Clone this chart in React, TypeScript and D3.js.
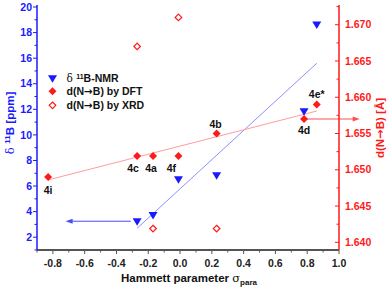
import React, { useRef, useEffect } from 'react';
import * as d3 from 'd3';

// delta 11B NMR (left axis)
const sigmaNmr = [-0.27, -0.17, -0.01, 0.23, 0.78, 0.86];
const deltaNmr = [3.2, 3.7, 6.5, 6.8, 11.8, 18.6];

// d(N->B) by DFT (right axis)
const sigmaDft = [-0.83, -0.27, -0.17, -0.01, 0.23, 0.78, 0.86];
const dDft = [1.649, 1.6519, 1.6519, 1.6519, 1.655, 1.657, 1.659];
const dftLabels = ['4i', '4c', '4a', '4f', '4b', '4d', '4e*'];

// d(N->B) by XRD (right axis)
const sigmaXrd = [-0.27, -0.01, -0.17, 0.23];
const dXrd = [1.667, 1.671, 1.6419, 1.6419];

// linear fits and axis pointers
const nmrFit = [[-0.27, 2.7], [0.86, 15.6]];
const dftFit = [[-0.83, 1.6486], [0.86, 1.6581]];
const nmrArrow = [[-0.31, 3.25], [-0.72, 3.25]];
const dftArrow = [[0.79, 1.657], [1.13, 1.657]];

const xTicks = [-0.8, -0.6, -0.4, -0.2, 0.0, 0.2, 0.4, 0.6, 0.8, 1.0];
const leftTicks = [2, 4, 6, 8, 10, 12, 14, 16, 18, 20];
const rightTicks = [1.64, 1.645, 1.65, 1.655, 1.66, 1.665, 1.67];

const BLUE = '#1a1aff';
const RED = '#ff1a1a';
const FONT = "'Liberation Sans', Arial, sans-serif";
const SYM = "'DejaVu Sans', sans-serif";

const App = () => {
  const svgRef = useRef<SVGSVGElement>(null);

  useEffect(() => {
    const width = 390;
    const height = 290;
    const margin = { top: 7, right: 51, bottom: 40, left: 37 };

    d3.select(svgRef.current).selectAll('*').remove();
    const svg = d3.select(svgRef.current)
      .attr('width', width)
      .attr('height', height)
      .style('font-family', FONT);

    const x = d3.scaleLinear().domain([-0.9, 1.0]).range([margin.left, width - margin.right]);
    const yL = d3.scaleLinear().domain([1, 20]).range([height - margin.bottom, margin.top]);
    const yR = d3.scaleLinear().domain([1.63894, 1.67244]).range([height - margin.bottom, margin.top]);

    const x0 = margin.left;
    const x1 = width - margin.right;
    const yb = height - margin.bottom;

    // fit lines
    const fitLine = (pts: number[][], ys: d3.ScaleLinear<number, number>, color: string) => {
      svg.append('path')
        .attr('d', d3.line()(pts.map(p => [x(p[0]), ys(p[1])] as [number, number])))
        .attr('stroke', color)
        .attr('stroke-width', 1)
        .attr('fill', 'none');
    };
    fitLine(nmrFit, yL, '#8f8fff');
    fitLine(dftFit, yR, '#ff9c9c');

    // arrows
    const arrow = (pts: number[][], ys: d3.ScaleLinear<number, number>, color: string) => {
      const [ax, ay] = [x(pts[0][0]), ys(pts[0][1])];
      const [bx, by] = [x(pts[1][0]), ys(pts[1][1])];
      const dir = Math.sign(bx - ax);
      svg.append('line')
        .attr('x1', ax).attr('y1', ay).attr('x2', bx - dir * 5).attr('y2', by)
        .attr('stroke', color).attr('stroke-width', 1);
      svg.append('path')
        .attr('d', `M${bx},${by}L${bx - dir * 7},${by - 2.5}L${bx - dir * 7},${by + 2.5}Z`)
        .attr('fill', color);
    };
    arrow(nmrArrow, yL, '#4a4aff');
    arrow(dftArrow, yR, '#ff4d4d');

    // x axis
    const xAxis = svg.append('g').attr('transform', `translate(0,${yb})`);
    xAxis.append('line').attr('x1', x0).attr('x2', x1).attr('stroke', '#555').attr('stroke-width', 2);
    d3.range(-0.9, 1.01, 0.1).forEach(v => {
      const major = xTicks.some(t => Math.abs(t - v) < 1e-6);
      xAxis.append('line')
        .attr('x1', x(v)).attr('x2', x(v)).attr('y1', 0).attr('y2', major ? 4 : 2.5)
        .attr('stroke', '#555').attr('stroke-width', 1);
    });
    xAxis.selectAll('text.tl')
      .data(xTicks)
      .enter()
      .append('text')
      .attr('x', d => x(d))
      .attr('y', 17)
      .attr('text-anchor', 'middle')
      .attr('font-size', 10.5)
      .attr('font-weight', 'bold')
      .attr('fill', '#222')
      .text(d => d.toFixed(1));

    // left axis
    const lAxis = svg.append('g');
    lAxis.append('line').attr('x1', x0).attr('x2', x0).attr('y1', margin.top - 2).attr('y2', yb)
      .attr('stroke', BLUE).attr('stroke-width', 1.5);
    d3.range(1, 20.5, 1).forEach(v => {
      const major = v % 2 === 0;
      lAxis.append('line')
        .attr('x1', x0 - (major ? 4 : 2.5)).attr('x2', x0).attr('y1', yL(v)).attr('y2', yL(v))
        .attr('stroke', BLUE).attr('stroke-width', 1);
    });
    lAxis.selectAll('text')
      .data(leftTicks)
      .enter()
      .append('text')
      .attr('x', x0 - 5)
      .attr('y', d => yL(d) + 3.7)
      .attr('text-anchor', 'end')
      .attr('font-size', 10.5)
      .attr('font-weight', 'bold')
      .attr('fill', BLUE)
      .text(d => d);

    // right axis
    const rAxis = svg.append('g');
    rAxis.append('line').attr('x1', x1).attr('x2', x1).attr('y1', margin.top - 2).attr('y2', yb)
      .attr('stroke', RED).attr('stroke-width', 1.5);
    d3.range(1.64, 1.6726, 0.0025).forEach((v, i) => {
      const major = i % 2 === 0;
      rAxis.append('line')
        .attr('x1', x1 - (major ? 4 : 2.5)).attr('x2', x1).attr('y1', yR(v)).attr('y2', yR(v))
        .attr('stroke', RED).attr('stroke-width', 1);
    });
    rAxis.selectAll('text')
      .data(rightTicks)
      .enter()
      .append('text')
      .attr('x', x1 + 6)
      .attr('y', d => yR(d) + 3.7)
      .attr('font-size', 10.5)
      .attr('font-weight', 'bold')
      .attr('fill', RED)
      .text(d => d.toFixed(3));

    // markers
    const tri = (cx: number, cy: number) => `M${cx - 4.5},${cy - 3.5}L${cx + 4.5},${cy - 3.5}L${cx},${cy + 4}Z`;
    const dia = (cx: number, cy: number, r: number) => `M${cx},${cy - r}L${cx + r},${cy}L${cx},${cy + r}L${cx - r},${cy}Z`;

    svg.selectAll('path.nmr')
      .data(sigmaNmr)
      .enter()
      .append('path')
      .attr('d', (d, i) => tri(x(d), yL(deltaNmr[i])))
      .attr('fill', BLUE);

    svg.selectAll('path.xrd')
      .data(sigmaXrd)
      .enter()
      .append('path')
      .attr('d', (d, i) => dia(x(d), yR(dXrd[i]), 3.3))
      .attr('fill', 'white')
      .attr('stroke', RED)
      .attr('stroke-width', 1.2);

    svg.selectAll('path.dft')
      .data(sigmaDft)
      .enter()
      .append('path')
      .attr('d', (d, i) => dia(x(d), yR(dDft[i]), 4))
      .attr('fill', RED);

    // compound labels
    const labelOffset: Record<string, [number, number]> = {
      '4i': [0, 17], '4c': [-4, 16], '4a': [-2, 16], '4f': [-7, 16],
      '4b': [-1, -6], '4d': [0, 15], '4e*': [0, -6],
    };
    svg.selectAll('text.lab')
      .data(dftLabels)
      .enter()
      .append('text')
      .attr('x', (d, i) => x(sigmaDft[i]) + labelOffset[d][0])
      .attr('y', (d, i) => yR(dDft[i]) + labelOffset[d][1])
      .attr('text-anchor', 'middle')
      .attr('font-size', 10.5)
      .attr('font-weight', 'bold')
      .attr('fill', '#111')
      .text(d => d);

    // text with a N→B arrow glyph (Liberation Sans has no arrow)
    const nbText = (t: d3.Selection<SVGTextElement, unknown, null, undefined>, tail: string) => {
      t.append('tspan').text('d(N');
      t.append('tspan').attr('font-family', SYM).text('→');
      t.append('tspan').text('B)' + tail);
    };

    // legend
    const lg = svg.append('g').attr('font-size', 10.5).attr('font-weight', 'bold').attr('fill', '#111');
    const lx = 52.5;
    lg.append('path').attr('d', tri(lx, 78.7)).attr('fill', BLUE);
    const t1 = lg.append('text').attr('x', 66.5).attr('y', 82.3);
    t1.append('tspan').attr('font-weight', 'normal').attr('font-family', 'DejaVu Serif, serif').text('δ ');
    t1.append('tspan').attr('font-size', 7).attr('dy', -3.5).text('11');
    t1.append('tspan').attr('dy', 3.5).text('B-NMR');
    lg.append('path').attr('d', dia(lx, 91.3, 4)).attr('fill', RED);
    nbText(lg.append('text').attr('x', 66.5).attr('y', 95), ' by DFT');
    lg.append('path').attr('d', dia(lx, 105.3, 3.3)).attr('fill', 'white').attr('stroke', RED).attr('stroke-width', 1.2);
    nbText(lg.append('text').attr('x', 66.5).attr('y', 109), ' by XRD');

    // axis titles
    const xt = svg.append('text')
      .attr('x', 189)
      .attr('y', 282)
      .attr('text-anchor', 'middle')
      .attr('font-size', 11.5)
      .attr('font-weight', 'bold')
      .attr('fill', '#111');
    xt.append('tspan').text('Hammett parameter ');
    xt.append('tspan').attr('font-weight', 'normal').attr('font-family', 'DejaVu Serif, serif').text('σ');
    xt.append('tspan').attr('font-size', 8).attr('dy', 3).text('para');

    const lt = svg.append('text')
      .attr('transform', `translate(14,123) rotate(-90)`)
      .attr('text-anchor', 'middle')
      .attr('font-size', 11.5)
      .attr('font-weight', 'bold')
      .attr('fill', BLUE);
    lt.append('tspan').attr('font-weight', 'normal').attr('font-family', 'DejaVu Serif, serif').text('δ ');
    lt.append('tspan').attr('font-size', 8).attr('dy', -4).text('11');
    lt.append('tspan').attr('dy', 4).text('B [ppm]');

    const rt = svg.append('text')
      .attr('transform', `translate(384,128) rotate(-90)`)
      .attr('text-anchor', 'middle')
      .attr('font-size', 11.5)
      .attr('font-weight', 'bold')
      .attr('fill', RED);
    nbText(rt, ' [Å]');
  }, []);

  return (
    <div style={{ position: 'absolute', left: 0, top: 0 }}>
      <svg ref={svgRef}></svg>
    </div>
  );
};

export default App;
